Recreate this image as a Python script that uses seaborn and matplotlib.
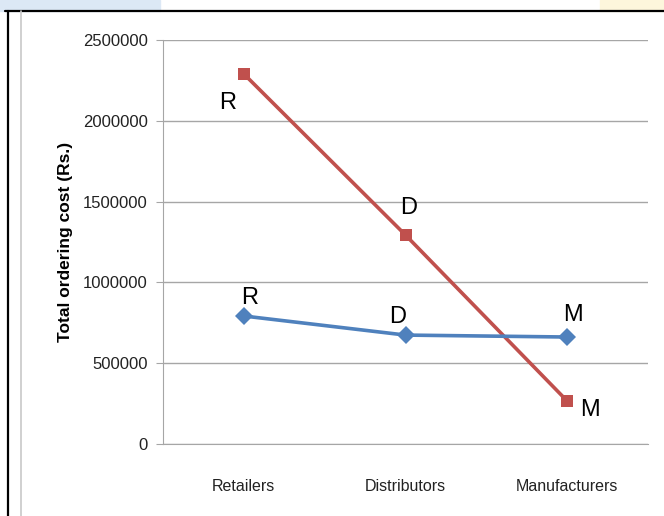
import pandas as pd
import matplotlib
matplotlib.use("Agg")
import matplotlib.pyplot as plt
import seaborn as sns
from matplotlib.lines import Line2D
from matplotlib.patches import Rectangle

# values
stages = ["Retailers", "Distributors", "Manufacturers"]
series_a = [2290000, 1293000, 266000]   # red squares
series_b = [792000, 674000, 662000]     # blue diamonds
point_labels = ["R", "D", "M"]
y_ticks = [0, 500000, 1000000, 1500000, 2000000, 2500000]

df = pd.DataFrame({
    "stage": stages * 2,
    "cost": series_a + series_b,
    "series": ["A"] * 3 + ["B"] * 3,
})

sns.set_style("white")
plt.rcParams["font.family"] = ["Liberation Sans", "DejaVu Sans"]

fig = plt.figure(figsize=(6.64, 5.16), dpi=100)
ax = fig.add_axes([163 / 664, 72 / 516, 485 / 664, 404 / 516])

# slide background bits and frame
fig.patches.append(Rectangle((0, 1 - 11 / 516), 160 / 664, 11 / 516,
                             transform=fig.transFigure, color="#dce8f5", zorder=0))
fig.patches.append(Rectangle((600 / 664, 1 - 11 / 516), 64 / 664, 11 / 516,
                             transform=fig.transFigure, color="#fdf6dc", zorder=0))
fig.lines.append(Line2D([5 / 664, 1], [1 - 11 / 516] * 2, transform=fig.transFigure,
                        color="black", lw=1.6))
fig.lines.append(Line2D([8 / 664] * 2, [0, 1 - 11 / 516], transform=fig.transFigure,
                        color="black", lw=1.6))
fig.lines.append(Line2D([21 / 664] * 2, [0, 1 - 11 / 516], transform=fig.transFigure,
                        color="#c8c8c8", lw=1.2))

palette = {"A": "#C0504D", "B": "#4F81BD"}
sns.lineplot(data=df, x="stage", y="cost", hue="series", style="series",
             markers={"A": "s", "B": "D"}, dashes=False, palette=palette,
             linewidth=2.6, markersize=9, markeredgewidth=0, legend=False, ax=ax)

# point letters
offs_a = [(-16, -29), (3, 27), (23, -9)]
offs_b = [(6, 18), (-8, 18), (6, 22)]
for i, lab in enumerate(point_labels):
    ax.annotate(lab, (i, series_a[i]), xytext=offs_a[i], textcoords="offset pixels",
                ha="center", va="center", fontsize=17, color="black")
    ax.annotate(lab, (i, series_b[i]), xytext=offs_b[i], textcoords="offset pixels",
                ha="center", va="center", fontsize=17, color="black")

ax.set_xlim(-0.5, 2.5)
ax.set_ylim(0, 2500000)
ax.set_yticks(y_ticks)
ax.set_yticklabels([str(t) for t in y_ticks])
ax.yaxis.grid(True, color="#a6a6a6", lw=1)
ax.set_axisbelow(True)
for s in ["top", "right"]:
    ax.spines[s].set_visible(False)
ax.spines["left"].set_color("#a6a6a6")
ax.spines["bottom"].set_color("#a6a6a6")
ax.tick_params(axis="y", left=True, length=5, color="#a6a6a6", labelsize=12,
               labelcolor="#222222", pad=6)
ax.tick_params(axis="x", bottom=False, labelsize=11.5, labelcolor="#222222", pad=22)
ax.set_xlabel("")
ax.set_ylabel("Total ordering cost (Rs.)", fontsize=12.5, fontweight="bold",
              color="black", labelpad=7)

fig.savefig("out.png", dpi=100)
